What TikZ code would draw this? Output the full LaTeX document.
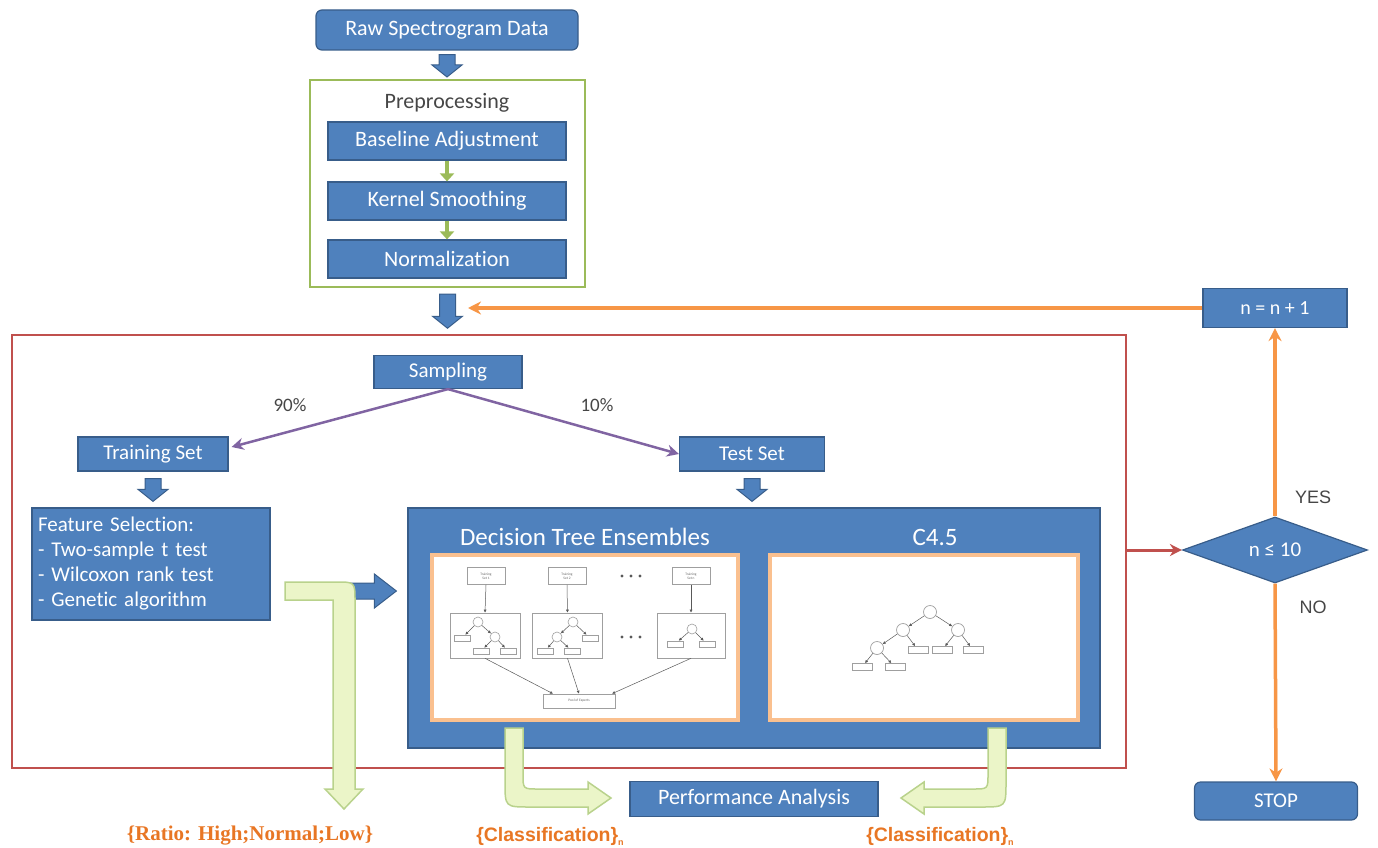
\documentclass[tikz,border=0pt]{standalone}
\usepackage{fontspec}
\setmainfont{Carlito}[Ligatures=NoCommon]
\newfontfamily\arialf{Liberation Sans}
\newfontfamily\timesf{Liberation Serif}
\usetikzlibrary{shapes.geometric,arrows.meta,calc}
\definecolor{bfill}{RGB}{79,129,189}
\definecolor{bdraw}{RGB}{56,93,138}
\definecolor{gborder}{RGB}{155,187,89}
\definecolor{rborder}{RGB}{192,80,77}
\definecolor{orangeA}{RGB}{247,150,70}
\definecolor{panelb}{RGB}{250,192,143}
\definecolor{purpleA}{RGB}{128,100,162}
\definecolor{lgreen}{RGB}{235,245,200}
\definecolor{lgreenb}{RGB}{185,210,140}
\definecolor{otext}{RGB}{232,118,36}
\definecolor{gtext}{RGB}{70,70,70}
% block arrows (canvas coordinates taken from node anchors)
\newcommand\blkdown[2]{%
  \path[blk] let \p1=(#1), \p2=(#2) in
    (\x1-8pt,\y1) -- (\x1+8pt,\y1) -- (\x1+8pt,\y2+12pt) -- (\x1+15pt,\y2+12pt)
    -- (\x1,\y2) -- (\x1-15pt,\y2+12pt) -- (\x1-8pt,\y2+12pt) -- cycle;}
\newcommand\blkright[2]{%
  \path[blk] let \p1=(#1), \p2=(#2) in
    (\x1,\y1+8pt) -- (\x2-22pt,\y1+8pt) -- (\x2-22pt,\y1+17pt) -- (\x2,\y1)
    -- (\x2-22pt,\y1-17pt) -- (\x2-22pt,\y1-8pt) -- (\x1,\y1-8pt) -- cycle;}
\begin{document}
\begin{tikzpicture}[x=1pt,y=-1pt,
  blk/.style={fill=bfill,draw=bdraw,line width=1pt},
  bbox/.style={draw=bdraw,line width=1.2pt,fill=bfill,text=white,inner sep=0pt,
    font=\fontsize{22}{26}\selectfont},
  garr/.style={draw=gborder,line width=4pt,-{Triangle[length=8pt,width=14pt]}},
  parr/.style={draw=purpleA,line width=2.5pt,-{Stealth[length=12pt,width=12pt]}},
  oarr/.style={draw=orangeA,line width=3.5pt,-{Stealth[length=13pt,width=13pt]}},
  rarr/.style={draw=rborder,line width=3pt,-{Stealth[length=12pt,width=12pt]}},
  greenarrow/.style={fill=lgreen,draw=lgreenb,line width=1.5pt},
  panel/.style={draw=panelb,line width=3.5pt,fill=white,inner sep=0pt},
  lbl/.style={text=gtext,inner sep=0pt},
  tb/.style={draw=gray!75,line width=0.6pt,fill=white,inner sep=0pt,
    font=\fontsize{3.5}{4}\selectfont,align=center,text=gray!80!black},
  tc/.style={circle,draw=gray!75,line width=0.6pt,fill=white,inner sep=0pt,minimum size=10pt},
  tl/.style={draw=gray!75,line width=0.6pt,fill=white,inner sep=0pt,minimum width=16pt,minimum height=6pt},
  tcb/.style={circle,draw=gray!75,line width=0.7pt,fill=white,inner sep=0pt,minimum size=13pt},
  tlb/.style={draw=gray!75,line width=0.7pt,fill=white,inner sep=0pt,minimum width=20pt,minimum height=7pt},
  tarr/.style={draw=gray!70!black,line width=0.5pt,-{Latex[length=3pt,width=3pt]}}
]
\useasboundingbox (0,0) rectangle (1378,848);

% ---------- frames ----------
\node[draw=rborder,line width=1.5pt,minimum width=1114pt,minimum height=433pt,inner sep=0pt]
  (redbox) at (569,551.5) {};
\node[draw=gborder,line width=2pt,minimum width=275pt,minimum height=207pt,inner sep=0pt]
  (pre) at (447.5,183.5) {};

% ---------- top ----------
\node[bbox,rounded corners=6pt,minimum width=262pt,minimum height=40pt] (raw) at (447,30) {Raw Spectrogram Data};
\node[lbl,font=\fontsize{22}{26}\selectfont] (pretitle) at (447,103) {Preprocessing};
\node[bbox,minimum width=238pt,minimum height=38pt] (base) at (447,141) {Baseline Adjustment};
\node[bbox,minimum width=238pt,minimum height=38pt] (kern) at (447,201) {Kernel Smoothing};
\node[bbox,minimum width=238pt,minimum height=38pt] (norm) at (447,259) {Normalization};
\draw[garr] (base.south) -- (kern.north);
\draw[garr] (kern.south) -- (norm.north);
\blkdown{[yshift=-4pt]raw.south}{[yshift=2pt]pre.north}
\blkdown{[yshift=-6pt]pre.south}{[yshift=6pt]redbox.north}

% ---------- right loop ----------
\node[bbox,minimum width=144pt,minimum height=39pt,font=\fontsize{20}{24}\selectfont] (inc) at (1275,308) {n = n + 1};
\node[bbox,diamond,minimum width=185pt,minimum height=64pt,font=\fontsize{21}{24}\selectfont] (dia) at (1275,550) {n ≤ 10};
\node[bbox,rounded corners=6pt,minimum width=163pt,minimum height=38pt,font=\fontsize{21}{24}\selectfont] (stop) at (1276,801) {STOP};
\coordinate (oend) at (468,311);
\draw[oarr] (inc.west) -- (oend |- inc.west);
\draw[oarr] (dia.north) -- (inc.south);
\draw[oarr] (dia.south) -- (stop.north);
\draw[rarr] (redbox.east |- dia.west) -- (dia.west);
\node[lbl,font=\arialf\fontsize{18}{21}\selectfont] (yes) at (1313,497) {YES};
\node[lbl,font=\arialf\fontsize{18}{21}\selectfont] (no) at (1313,607) {NO};

% ---------- sampling ----------
\node[bbox,minimum width=148pt,minimum height=33pt,font=\fontsize{21}{24}\selectfont] (samp) at (448,372) {Sampling};
\node[bbox,minimum width=150pt,minimum height=34pt,font=\fontsize{21}{24}\selectfont] (train) at (153,454) {Training Set};
\node[bbox,minimum width=145pt,minimum height=34pt,font=\fontsize{21}{24}\selectfont] (test) at (752,454) {Test Set};
\draw[parr] (samp.south) -- ([xshift=3pt,yshift=7pt]train.east);
\draw[parr] (samp.south) -- (test.west);
\node[lbl,font=\fontsize{19}{22}\selectfont] (p90) at (290,405) {90\%};
\node[lbl,font=\fontsize{19}{22}\selectfont] (p10) at (597,405) {10\%};

% ---------- feature selection ----------
\node[bbox,minimum width=238pt,minimum height=112pt,text width=226pt,align=left,
  font=\fontsize{21}{25}\selectfont] (feat) at (151,564)
  {Feature Selection:\\- Two-sample t test\\- Wilcoxon rank test\\- Genetic algorithm};
\blkdown{[yshift=-7pt]train.south}{[yshift=6pt]feat.north}

% ---------- classifiers ----------
\node[bbox,minimum width=692pt,minimum height=240pt] (dte) at (754,628) {};
\blkdown{[yshift=-7pt]test.south}{[yshift=6pt]dte.north}
\blkright{[xshift=15pt,yshift=-27pt]feat.east}{[xshift=-11pt]dte.west}
\node[text=white,inner sep=0pt,font=\fontsize{25}{29}\selectfont] (dtet) at (585,537) {Decision Tree Ensembles};
\node[text=white,inner sep=0pt,font=\fontsize{25}{29}\selectfont] (c45t) at (935,537) {C4.5};
\node[panel,minimum width=306pt,minimum height=165pt] (pL) at (585,637.5) {};
\node[panel,minimum width=308pt,minimum height=165pt] (pR) at (924,637.5) {};

% ensemble mini diagram
\node[tb,minimum width=38pt,minimum height=17pt] (ts1) at (486,576) {Training\\Set 1};
\node[tb,minimum width=38pt,minimum height=17pt] (ts2) at (567,576) {Training\\Set 2};
\node[tb,minimum width=38pt,minimum height=17pt] (ts3) at (691,576) {Training\\Set n};
\node[tb,minimum width=70pt,minimum height=45pt] (tb1) at (485,635.5) {};
\node[tb,minimum width=70pt,minimum height=45pt] (tb2) at (567.5,635.5) {};
\node[tb,minimum width=68pt,minimum height=45pt] (tb3) at (691,635.5) {};
\node[tb,minimum width=72pt,minimum height=14pt] (pool) at (579,701) {Pool of Experts};
\foreach \i in {1,2,3} {\draw[tarr] (ts\i.south) -- (tb\i.north);}
\draw[tarr] (tb1.south) -- ([xshift=-26pt]pool.north);
\draw[tarr] (tb2.south) -- (pool.north);
\draw[tarr] (tb3.south) -- ([xshift=33pt]pool.north);
\foreach \xx in {622,631,640} {\fill[gray!70!black] (\xx,576) circle (1.6pt); \fill[gray!70!black] (\xx,637) circle (1.6pt);}
% tree 1
\node[tc] (a1) at (478,622) {};
\node[tl] (a2) at (462,638) {};
\node[tc] (a3) at (495,637) {};
\node[tl] (a4) at (481,651) {};
\node[tl] (a5) at (508,651) {};
\draw[tarr] (a1) -- (a2); \draw[tarr] (a1) -- (a3);
\draw[tarr] (a3) -- (a4); \draw[tarr] (a3) -- (a5);
% tree 2
\node[tc] (b1) at (573,622) {};
\node[tc] (b2) at (557,637) {};
\node[tl] (b3) at (590,638) {};
\node[tl] (b4) at (545,651) {};
\node[tl] (b5) at (572,651) {};
\draw[tarr] (b1) -- (b2); \draw[tarr] (b1) -- (b3);
\draw[tarr] (b2) -- (b4); \draw[tarr] (b2) -- (b5);
% tree 3
\node[tc] (c1) at (692,629) {};
\node[tl] (c2) at (675,644) {};
\node[tl] (c3) at (707,644) {};
\draw[tarr] (c1) -- (c2); \draw[tarr] (c1) -- (c3);

% C4.5 tree
\node[tcb] (d1) at (930,612) {};
\node[tcb] (d2) at (903,630) {};
\node[tcb] (d3) at (958,630) {};
\node[tcb] (d4) at (877,648) {};
\node[tlb] (d5) at (918,650) {};
\node[tlb] (d6) at (942,650) {};
\node[tlb] (d7) at (973,650) {};
\node[tlb] (d8) at (862,667) {};
\node[tlb] (d9) at (895,667) {};
\draw[tarr] (d1) -- (d2); \draw[tarr] (d1) -- (d3);
\draw[tarr] (d2) -- (d4); \draw[tarr] (d2) -- (d5);
\draw[tarr] (d3) -- (d6); \draw[tarr] (d3) -- (d7);
\draw[tarr] (d4) -- (d8); \draw[tarr] (d4) -- (d9);

% ---------- performance ----------
\node[bbox,minimum width=248pt,minimum height=35pt,font=\fontsize{22}{26}\selectfont] (perf) at (754,799) {Performance Analysis};

% green bent arrows
\draw[greenarrow] (285,582) -- (336,582) .. controls (355,582) .. (355,601) -- (355,789)
  -- (363,789) -- (344,809) -- (325,789) -- (333,789) -- (333,600) -- (285,600) -- cycle;
\draw[greenarrow] (505,728) -- (505,782) .. controls (505,807) .. (530,807) -- (588,807)
  -- (588,814) -- (611,798) -- (588,782) -- (588,789) -- (538,789) .. controls (523,789) .. (523,774)
  -- (523,728) -- cycle;
\draw[greenarrow] (1006,728) -- (1006,782) .. controls (1006,807) .. (981,807) -- (924,807)
  -- (924,814) -- (901,798) -- (924,782) -- (924,789) -- (973,789) .. controls (988,789) .. (988,774)
  -- (988,728) -- cycle;

% bottom labels
\node[text=otext,inner sep=0pt,font=\timesf\bfseries\fontsize{21}{24}\selectfont] (ratio) at (250,836) {\{Ratio: High;Normal;Low\}};
\node[text=otext,inner sep=0pt,font=\arialf\bfseries\fontsize{19.5}{22}\selectfont] (cls1) at (550,836) {\{Classification\}\raisebox{-4pt}{\fontsize{9}{9}\selectfont n}};
\node[text=otext,inner sep=0pt,font=\arialf\bfseries\fontsize{19.5}{22}\selectfont] (cls2) at (940,836) {\{Classification\}\raisebox{-4pt}{\fontsize{9}{9}\selectfont n}};
\end{tikzpicture}
\end{document}
